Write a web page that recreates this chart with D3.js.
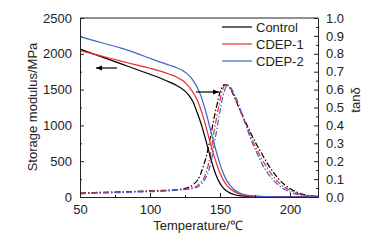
<!DOCTYPE html>
<html><head><meta charset="utf-8">
<script src="https://cdn.jsdelivr.net/npm/d3@7"></script>
<style>body{margin:0;background:#fff}svg{display:block}text{font-family:"Liberation Sans",Arial,sans-serif;fill:#222}</style>
</head><body><svg id="c" width="374" height="241"></svg>
<script>
// ---- data ----
const seriesNames = ["Control", "CDEP-1", "CDEP-2"];
const seriesColors = ["#000000", "#ee2a2a", "#3f63c8"];

const tempE_control = [50,60,70,80,90,100,108,114,119,123,126,129,131,133,135,137,139,141,143,145,147,149,151,153,156,160,165,170,180,200,220];
const E_control     = [2065,1995,1925,1855,1785,1714,1655,1605,1558,1510,1460,1385,1320,1215,1110,990,855,710,565,430,315,225,160,112,68,35,16,8,4,2,1];
const tempE_cdep1   = [50,60,70,80,90,100,108,114,119,123,126,129,132,134,136,138,140,142,144,146,148,150,152,155,158,162,168,175,190,220];
const E_cdep1       = [2045,1995,1945,1895,1845,1798,1755,1715,1675,1630,1580,1510,1420,1340,1240,1120,980,830,690,560,440,335,250,160,105,55,20,8,3,2];
const tempE_cdep2   = [50,60,70,80,90,100,108,114,119,123,126,129,132,134,136,138,140,142,144,146,148,150,152,154,157,160,164,170,178,190,220];
const E_cdep2       = [2240,2185,2130,2075,2010,1937,1880,1840,1805,1770,1730,1675,1590,1520,1430,1315,1180,1030,880,730,590,460,350,260,165,105,55,22,8,3,2];

const tempT_control = [50,60,70,80,90,100,110,120,125,128,131,134,136,138,140,142,144,146,148,150,152,153,155,158,161,164,167,170,173,176,180,184,188,192,196,200,205,210,215,220];
const tan_control   = [0.022,0.025,0.027,0.029,0.031,0.034,0.037,0.042,0.048,0.056,0.07,0.095,0.125,0.17,0.22,0.29,0.37,0.45,0.52,0.585,0.62,0.628,0.625,0.595,0.545,0.49,0.44,0.39,0.34,0.295,0.24,0.185,0.14,0.1,0.07,0.048,0.027,0.013,0.006,0.004];
const tempT_cdep1   = [50,60,70,80,90,100,110,120,126,130,133,136,139,141,143,145,147,149,151,153,154,156,158,161,164,167,170,173,176,180,184,188,192,196,200,205,210,215,220];
const tan_cdep1     = [0.02,0.023,0.025,0.027,0.03,0.032,0.035,0.04,0.045,0.05,0.058,0.08,0.113,0.16,0.23,0.33,0.42,0.5,0.575,0.62,0.628,0.62,0.6,0.55,0.49,0.43,0.375,0.32,0.27,0.21,0.16,0.115,0.08,0.055,0.037,0.02,0.01,0.006,0.004];
const tempT_cdep2   = [50,60,70,80,90,100,110,120,126,130,134,137,140,142,144,146,148,150,152,154,155,157,159,162,165,168,171,174,177,180,184,188,192,196,200,205,210,215,220];
const tan_cdep2     = [0.018,0.021,0.023,0.025,0.028,0.03,0.033,0.038,0.043,0.048,0.056,0.075,0.11,0.15,0.21,0.3,0.39,0.48,0.56,0.61,0.625,0.618,0.595,0.545,0.48,0.415,0.345,0.285,0.235,0.185,0.135,0.095,0.065,0.043,0.028,0.014,0.007,0.004,0.003];

const xTicks = [50,100,150,200];
const yLeftTicks = [0,500,1000,1500,2000,2500];
const yRightTicks = [0,0.1,0.2,0.3,0.4,0.5,0.6,0.7,0.8,0.9,1.0];

// ---- chart ----
const svg = d3.select("#c");
const L = 80, R = 318, T = 18, B = 197;
const x = d3.scaleLinear().domain([50,220]).range([L,R]);
const yE = d3.scaleLinear().domain([0,2500]).range([B,T]);
const yT = d3.scaleLinear().domain([0,1]).range([B,T]);

const zip = (a,b) => a.map((v,i)=>[v,b[i]]);
const Edata = [zip(tempE_control,E_control), zip(tempE_cdep1,E_cdep1), zip(tempE_cdep2,E_cdep2)];
const Tdata = [zip(tempT_control,tan_control), zip(tempT_cdep1,tan_cdep1), zip(tempT_cdep2,tan_cdep2)];

const lineE = d3.line().x(d=>x(d[0])).y(d=>yE(d[1])).curve(d3.curveMonotoneX);
const lineT = d3.line().x(d=>x(d[0])).y(d=>yT(d[1])).curve(d3.curveMonotoneX);

const plot = svg.append("g");
Tdata.forEach((d,i)=>{
  plot.append("path").attr("d",lineT(d)).attr("fill","none").attr("stroke",seriesColors[i])
    .attr("stroke-width",1.2).attr("stroke-dasharray","6,2,1.5,2");
});
Edata.forEach((d,i)=>{
  plot.append("path").attr("d",lineE(d)).attr("fill","none").attr("stroke",seriesColors[i])
    .attr("stroke-width",1.2);
});

// axes
const fs = 13;
const axB = svg.append("g").attr("transform",`translate(0,${B})`)
  .call(d3.axisBottom(x).tickValues(xTicks).tickSizeInner(-4).tickSizeOuter(0).tickPadding(8).tickFormat(d3.format("d")));
const axBm = svg.append("g").attr("transform",`translate(0,${B})`)
  .call(d3.axisBottom(x).tickValues([75,125,175]).tickSizeInner(-2).tickSizeOuter(0).tickFormat(""));
const axL = svg.append("g").attr("transform",`translate(${L},0)`)
  .call(d3.axisLeft(yE).tickValues(yLeftTicks).tickSizeInner(-4).tickSizeOuter(0).tickPadding(8).tickFormat(d3.format("d")));
const axLm = svg.append("g").attr("transform",`translate(${L},0)`)
  .call(d3.axisLeft(yE).tickValues([250,750,1250,1750,2250]).tickSizeInner(-2).tickSizeOuter(0).tickFormat(""));
const axR = svg.append("g").attr("transform",`translate(${R},0)`)
  .call(d3.axisRight(yT).tickValues(yRightTicks).tickSizeInner(-4).tickSizeOuter(0).tickPadding(8).tickFormat(d3.format(".1f")));
const axRm = svg.append("g").attr("transform",`translate(${R},0)`)
  .call(d3.axisRight(yT).tickValues(d3.range(0.05,1,0.1)).tickSizeInner(-2).tickSizeOuter(0).tickFormat(""));
[axB,axBm,axL,axLm,axR,axRm].forEach(a=>{
  a.selectAll("text").style("font-size",fs+"px").attr("fill","#222").style("font-family","'Liberation Sans',Arial,sans-serif");
  a.selectAll("line,path").attr("stroke","#222");
});
// top frame
svg.append("line").attr("x1",L).attr("x2",R).attr("y1",T).attr("y2",T).attr("stroke","#222");

// axis titles
svg.append("text").attr("x",198).attr("y",230).attr("text-anchor","middle").style("font-size",fs+"px").text("Temperature/℃");
svg.append("text").attr("transform","translate(37,107) rotate(-90)").attr("text-anchor","middle").style("font-size",fs+"px").text("Storage modulus/MPa");
svg.append("text").attr("transform","translate(360,100) rotate(-90)").attr("text-anchor","middle").style("font-size",fs+"px").text("tanδ");

// legend
const legY = [27,44,61];
seriesNames.forEach((n,i)=>{
  svg.append("line").attr("x1",222).attr("x2",252).attr("y1",legY[i]).attr("y2",legY[i]).attr("stroke",seriesColors[i]).attr("stroke-width",1.2);
  svg.append("text").attr("x",256).attr("y",legY[i]+4.5).style("font-size",fs+"px").text(n);
});

// arrows
function arrow(x1,x2,y,dir){
  svg.append("line").attr("x1",x1).attr("x2",x2).attr("y1",y).attr("y2",y).attr("stroke","#000").attr("stroke-width",1.2);
  const tip = dir<0?x1:x2;
  const base = tip - dir*6;
  svg.append("path").attr("d",`M${tip},${y}L${base},${y-2.5}L${base},${y+2.5}Z`).attr("fill","#000");
}
arrow(96,117,68,-1);
arrow(196,219,92,1);
</script></body></html>
